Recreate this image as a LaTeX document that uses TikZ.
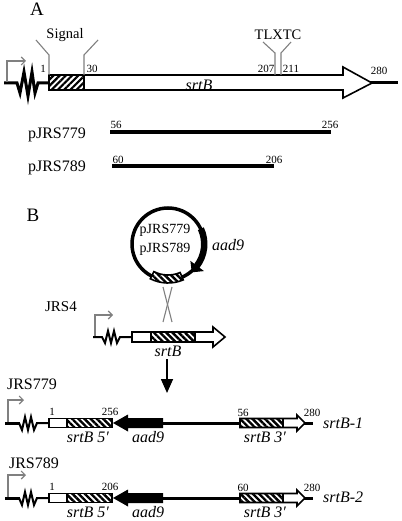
\documentclass[tikz,border=0pt]{standalone}
\usepackage{fontspec}
\setmainfont{Liberation Serif}
\usetikzlibrary{patterns.meta,arrows.meta}
\begin{document}
\begin{tikzpicture}[x=1pt,y=1pt,
  lbl/.style={inner sep=0pt,anchor=base,font=\fontsize{16}{18}\selectfont},
  slbl/.style={inner sep=0pt,anchor=base,font=\fontsize{14.5}{16}\selectfont},
  num/.style={inner sep=0pt,anchor=base,font=\fontsize{11}{12}\selectfont},
  big/.style={inner sep=0pt,anchor=base,font=\fontsize{19}{20}\selectfont},
  dna/.style={line width=3pt},
  zig/.style={line width=2pt,line join=miter},
  gbox/.style={draw,line width=1.6pt,fill=white,line join=miter},
  hatchA/.style={pattern={Lines[angle=45,distance=4.4pt,line width=2.2pt]}},
  hatchB/.style={pattern={Lines[angle=-45,distance=4.4pt,line width=2.4pt]}},
  sigline/.style={draw=gray,line width=1.1pt},
  promo/.style={draw=gray,line width=1.1pt,-{Straight Barb[length=4pt,width=8pt]}},
  frag/.style={line width=4pt},
]
\fill[white] (0,0) rectangle (401,-521);
\useasboundingbox (0,0) rectangle (401,-521);

% ---------------- Panel A ----------------
\node[big] (labA) at (37,-16) {A};
\draw[dna] (4,-83) -- (17,-83) -- (20,-93) -- (24,-72) -- (28,-96) -- (32,-72) -- (35,-93) -- (38,-83) -- (49,-83);
\draw[dna] (370,-83) -- (398,-83);
\draw[gbox] (49,-75) -- (343,-75) -- (343,-67) -- (372,-83) -- (343,-98) -- (343,-90) -- (49,-90) -- cycle;
\fill[hatchA] (49,-75) rectangle (84,-90);
\draw[line width=1.6pt] (49,-75) rectangle (84,-90);
\draw[promo] (7,-82) -- (7,-61) -- (26,-61);
\draw[sigline] (49,-75) -- (49,-55) -- (36,-40);
\draw[sigline] (84,-75) -- (84,-55) -- (98,-40);
\draw[sigline] (275,-75) -- (275,-53) -- (263,-42);
\draw[sigline] (281,-75) -- (281,-53) -- (291,-42);
\node[slbl] (sig) at (65,-39) {Signal};
\node[slbl] (tlx) at (278,-39.5) {TLXTC};
\node[num] (n1) at (43,-73) {1};
\node[num] (n30) at (92,-73) {30};
\node[num] (n207) at (266,-73) {207};
\node[num] (n211) at (291,-73) {211};
\node[num] (n280) at (379,-75) {280};
\node[lbl] (srtA) at (199,-91) {\textit{srtB}};

\node[lbl] (p779) at (57,-139) {pJRS779};
\node[lbl] (p789) at (57,-171.5) {pJRS789};
\coordinate (f1a) at (110,-132); \coordinate (f1b) at (331,-132);
\coordinate (f2a) at (112,-166); \coordinate (f2b) at (274,-166);
\draw[frag] (f1a) -- (f1b);
\draw[frag] (f2a) -- (f2b);
\node[num] (n56a) at (116,-129) {56};
\node[num] (n256a) at (330,-129) {256};
\node[num] (n60a) at (118,-163.5) {60};
\node[num] (n206a) at (274,-163.5) {206};

% ---------------- Panel B ----------------
\node[big] (labB) at (33,-222) {B};
\coordinate (pc) at (168,-244);
\draw[line width=3.5pt] (pc) circle[radius=36];
% aad9 arc with head
\fill ([shift={(25:33)}]pc) arc[start angle=25,end angle=-37,radius=33]
  -- ([shift={(-37:28)}]pc) -- ([shift={(-50:37)}]pc) -- ([shift={(-37:45)}]pc)
  -- ([shift={(-37:39.5)}]pc) arc[start angle=-37,end angle=25,radius=39.5] -- cycle;
% hatched band
\path[fill=white] ([shift={(-117:31)}]pc) arc[start angle=-117,end angle=-67,radius=31]
  -- ([shift={(-67:39)}]pc) arc[start angle=-67,end angle=-117,radius=39] -- cycle;
\path[hatchB] ([shift={(-117:31)}]pc) arc[start angle=-117,end angle=-67,radius=31]
  -- ([shift={(-67:39)}]pc) arc[start angle=-67,end angle=-117,radius=39] -- cycle;
\draw[line width=1.6pt] ([shift={(-117:31)}]pc) arc[start angle=-117,end angle=-67,radius=31]
  -- ([shift={(-67:39)}]pc) arc[start angle=-67,end angle=-117,radius=39] -- cycle;
\node[inner sep=0pt,anchor=base,font=\fontsize{14}{15}\selectfont] (c779) at (165,-233) {pJRS779};
\node[inner sep=0pt,anchor=base,font=\fontsize{14}{15}\selectfont] (c789) at (165,-252) {pJRS789};
\node[lbl,anchor=base west] (aadc) at (212,-250) {\textit{aad9}};

% crossover
\draw[sigline] (163,-287) -- (172,-322);
\draw[sigline] (172,-287) -- (163,-322);

% JRS4
\node[inner sep=0pt,anchor=base,font=\fontsize{15}{16}\selectfont] (jrs4) at (61,-311) {JRS4};
\draw[zig] (93,-337) -- (102,-337) -- (105,-343) -- (108,-331) -- (111,-343) -- (114,-331) -- (117,-343) -- (120,-337) -- (132,-337);
\draw[promo] (95,-336) -- (95,-315) -- (113,-315);
\draw[gbox] (132,-332) -- (213,-332) -- (213,-327) -- (225,-337) -- (213,-347) -- (213,-342) -- (132,-342) -- cycle;
\fill[hatchB] (151,-332) rectangle (195,-342);
\draw[line width=1.5pt] (151,-332) rectangle (195,-342);
\node[lbl] (srt4) at (168,-356) {\textit{srtB}};

% down arrow
\coordinate (dtop) at (167,-359);
\coordinate (dbot) at (167,-393);
\draw[line width=1.6pt,-{Triangle[length=14pt,width=12pt]}] (dtop) -- (dbot);

% JRS779
\node[lbl] (j779) at (32,-389) {JRS779};
\begin{scope}[shift={(0,-423)}]
\draw[dna] (5,0) -- (20,0);
\draw[zig] (19,0) -- (22,-7) -- (25,6) -- (28,-7) -- (31,6) -- (34,-7) -- (37,0) -- (49,0);
\draw[dna] (160,0) -- (242,0);
\draw[dna] (300,0) -- (313,0);
\draw[promo] (8,1) -- (8,23) -- (24,23);
\draw[gbox] (49,4.5) rectangle (112,-4.5);
\fill[hatchB] (67,4.5) rectangle (112,-4.5);
\draw[line width=1.5pt] (67,4.5) rectangle (112,-4.5);
\fill (113,0) -- (128,8.5) -- (128,5) -- (163,5) -- (163,-5) -- (128,-5) -- (128,-8.5) -- cycle;
\draw[gbox] (240,4.5) -- (297,4.5) -- (297,8) -- (305,0) -- (297,-8) -- (297,-4.5) -- (240,-4.5) -- cycle;
\fill[hatchB] (240,4.5) rectangle (283,-4.5);
\draw[line width=1.5pt] (240,4.5) rectangle (283,-4.5);
\end{scope}
\node[num] (r1a) at (52,-415) {1};
\node[num] (r1b) at (110,-415) {256};
\node[num] (r1c) at (243,-416) {56};
\node[num] (r1d) at (312,-416) {280};
\node[lbl,anchor=base west] (s1) at (323,-428.5) {\textit{srtB-1}};
\node[lbl] (l1a) at (88,-442) {\textit{srtB 5′}};
\node[lbl] (l1b) at (148,-442) {\textit{aad9}};
\node[lbl] (l1c) at (265,-442) {\textit{srtB 3′}};

% JRS789
\node[lbl] (j789) at (34,-468) {JRS789};
\begin{scope}[shift={(0,-498)}]
\draw[dna] (5,0) -- (20,0);
\draw[zig] (19,0) -- (22,-7) -- (25,6) -- (28,-7) -- (31,6) -- (34,-7) -- (37,0) -- (49,0);
\draw[dna] (160,0) -- (242,0);
\draw[dna] (300,0) -- (313,0);
\draw[promo] (8,1) -- (8,23) -- (26,23);
\draw[gbox] (49,4.5) rectangle (112,-4.5);
\fill[hatchB] (67,4.5) rectangle (112,-4.5);
\draw[line width=1.5pt] (67,4.5) rectangle (112,-4.5);
\fill (113,0) -- (128,8.5) -- (128,5) -- (163,5) -- (163,-5) -- (128,-5) -- (128,-8.5) -- cycle;
\draw[gbox] (240,4.5) -- (297,4.5) -- (297,8) -- (305,0) -- (297,-8) -- (297,-4.5) -- (240,-4.5) -- cycle;
\fill[hatchB] (240,4.5) rectangle (283,-4.5);
\draw[line width=1.5pt] (240,4.5) rectangle (283,-4.5);
\end{scope}
\node[num] (r2a) at (52,-490) {1};
\node[num] (r2b) at (110,-490) {206};
\node[num] (r2c) at (243,-491) {60};
\node[num] (r2d) at (312,-491) {280};
\node[lbl,anchor=base west] (s2) at (323,-502) {\textit{srtB-2}};
\node[lbl] (l2a) at (88,-517) {\textit{srtB 5′}};
\node[lbl] (l2b) at (148,-517) {\textit{aad9}};
\node[lbl] (l2c) at (265,-517) {\textit{srtB 3′}};
\end{tikzpicture}
\end{document}
